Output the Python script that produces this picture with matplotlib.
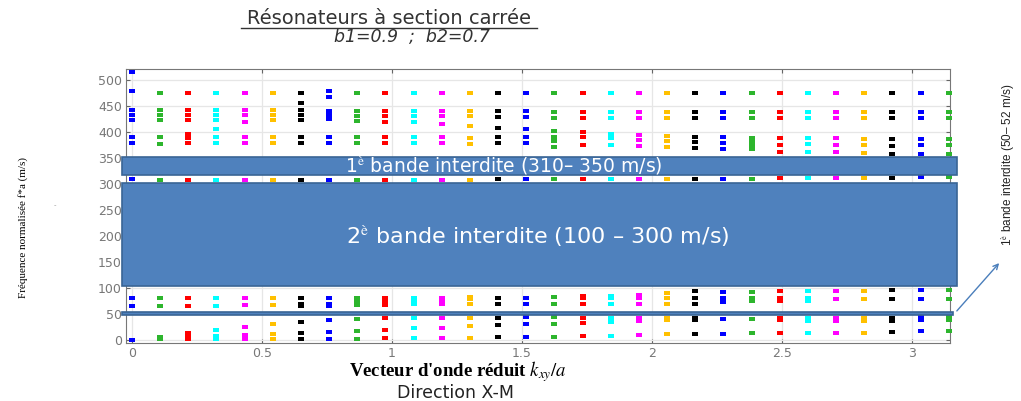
import matplotlib.pyplot as plt
from matplotlib.patches import Rectangle, FancyArrowPatch
from matplotlib.lines import Line2D
from matplotlib.path import Path

plt.rcParams['mathtext.fontset'] = 'stix'

# reduced wave vector k (x axis), 30 points from 0 to pi
k_points = [0.0, 0.108, 0.217, 0.325, 0.433, 0.542, 0.650, 0.758, 0.867, 0.975,
            1.083, 1.192, 1.300, 1.408, 1.517, 1.625, 1.733, 1.842, 1.950, 2.058,
            2.167, 2.275, 2.383, 2.492, 2.600, 2.708, 2.817, 2.925, 3.033, 3.142]

# frequencies below the 2nd gap (0 - 100)
low_freqs = [
    [0, 66, 81], [1, 6, 66, 81], [1, 6, 14, 66, 81], [1, 7, 20, 66, 81],
    [1, 9, 25, 67, 81], [1, 11, 30, 67, 81], [2, 13, 34, 66, 69, 81],
    [2, 15, 38, 66, 70, 81], [2, 17, 40, 67, 73, 81], [3, 19, 42, 67, 72, 76, 81],
    [3, 22, 43, 69, 75, 81], [3, 23, 43, 69, 77, 81], [4, 26, 43, 69, 79, 82],
    [5, 28, 43, 69, 81], [5, 30, 44, 69, 81], [6, 30, 44, 69, 83],
    [8, 33, 43, 70, 80, 84], [8, 35, 43, 70, 80, 85], [10, 37, 43, 70, 80, 86],
    [11, 38, 42, 70, 80, 90], [11, 38, 42, 70, 80, 95], [12, 41, 72, 80, 92],
    [13, 41, 74, 80, 93], [13, 38, 43, 75, 80, 94], [13, 37, 43, 75, 80, 94],
    [14, 37, 43, 78, 95], [14, 37, 43, 78, 95], [15, 36, 43, 78, 96],
    [17, 39, 44, 78, 96], [17, 39, 44, 78, 96],
]

# band just under the 1st gap
mid_freqs = [310, 308, 308, 308, 308, 308, 308, 308, 308, 308,
             308, 308, 308, 309, 309, 309, 309, 309, 309, 310,
             310, 310, 310, 311, 311, 311, 312, 312, 313, 313]

# frequencies above the 1st gap (350 - 520)
high_freqs = [
    [378, 390, 423, 433, 443, 479, 516], [377, 390, 423, 432, 442, 476],
    [378, 388, 397, 423, 432, 442, 476], [378, 390, 406, 423, 432, 442, 476],
    [378, 390, 419, 433, 442, 476], [378, 390, 423, 432, 442, 476],
    [378, 390, 423, 432, 442, 455, 476], [378, 390, 425, 433, 440, 467, 479],
    [378, 390, 421, 430, 440, 476], [378, 390, 420, 430, 440, 476],
    [378, 390, 419, 430, 440, 476], [378, 390, 415, 430, 440, 476],
    [377, 388, 412, 430, 440, 476], [378, 390, 408, 428, 440, 476],
    [378, 390, 405, 428, 440, 476], [372, 382, 391, 402, 427, 438, 476],
    [375, 390, 400, 427, 438, 476], [375, 388, 397, 427, 438, 476],
    [374, 384, 394, 427, 438, 476], [372, 382, 392, 427, 438, 476],
    [370, 380, 391, 427, 438, 476], [368, 378, 390, 427, 438, 476],
    [367, 375, 382, 389, 427, 438, 476], [362, 375, 388, 427, 438, 476],
    [362, 376, 388, 427, 438, 476], [361, 375, 388, 427, 438, 476],
    [359, 375, 387, 427, 438, 476], [358, 374, 387, 427, 438, 476],
    [358, 375, 387, 427, 438, 476], [358, 375, 387, 427, 438, 476],
]

palette = ['#0000ff', '#2db52d', '#ff0000', '#00ffff', '#ff00ff', '#ffc000', '#000000']

# forbidden bands (low, high)
gap1 = (317, 352)
gap2 = (103, 302)
gap3 = (47, 53)

# short dash marker (wider than tall)
dash = Path([(-1, -0.6), (1, -0.6), (1, 0.6), (-1, 0.6), (-1, -0.6)],
            [Path.MOVETO, Path.LINETO, Path.LINETO, Path.LINETO, Path.CLOSEPOLY])

fig = plt.figure(figsize=(10.21, 4.01), dpi=100)
ax = fig.add_axes([0.1234, 0.1446, 0.807, 0.683])

for i, k in enumerate(k_points):
    ys = low_freqs[i] + [mid_freqs[i]] + high_freqs[i]
    ax.scatter([k] * len(ys), ys, marker=dash, s=16, color=palette[i % 7],
               linewidths=0, zorder=3, clip_on=False)

ax.set_xlim(-0.023, 3.146)
ax.set_ylim(-6, 521)
ax.set_xticks([0, 0.5, 1, 1.5, 2, 2.5, 3])
ax.set_xticklabels(['0', '0.5', '1', '1.5', '2', '2.5', '3'])
ax.set_yticks(range(0, 501, 50))
ax.tick_params(direction='in', length=3, labelsize=9, labelcolor='#777777',
               color='#666666', top=True, right=True, pad=3)
for s in ax.spines.values():
    s.set_color('#777777')
ax.grid(True, color='#e6e6e6', lw=0.9)
ax.set_axisbelow(True)

fill = '#4f81bd'
edge = '#3a6595'
for (lo, hi), x1 in [(gap1, 3.172), (gap2, 3.172), (gap3, 3.158)]:
    ax.add_patch(Rectangle((-0.04, lo), x1 + 0.04, hi - lo, facecolor=fill,
                           edgecolor=edge, lw=1.2, zorder=5, clip_on=False))

ax.text(1.43, 335, r'1$^{\rm è}$ bande interdite (310– 350 m/s)', color='white',
        fontsize=13.5, ha='center', va='center', zorder=6)
ax.text(1.56, 200, r'2$^{\rm è}$ bande interdite (100 – 300 m/s)', color='white',
        fontsize=16, ha='center', va='center', zorder=6)

arrow = FancyArrowPatch((955 / 1021, 1 - 313 / 401), (1001 / 1021, 1 - 261 / 401),
                        transform=fig.transFigure, arrowstyle='->', mutation_scale=9,
                        color='#4a7ebb', lw=1)
fig.add_artist(arrow)
fig.text(1008 / 1021, 1 - 165 / 401, r'1$^{\rm è}$ bande interdite (50– 52 m/s)',
         rotation=90, ha='center', va='center', fontsize=8.5,
         family='Liberation Sans', color='#222222')

# titles
fig.text(389 / 1021, 1 - 19 / 401, 'Résonateurs à section carrée', ha='center',
         va='center', fontsize=14, color='#333333')
fig.add_artist(Line2D([241 / 1021, 537 / 1021], [1 - 28 / 401, 1 - 28 / 401],
                      transform=fig.transFigure, color='#333333', lw=1))
fig.text(412 / 1021, 1 - 37 / 401, 'b1=0.9  ;  b2=0.7', ha='center', va='center',
         fontsize=12.5, style='italic', color='#333333')

fig.text(23 / 1021, 1 - 228 / 401, 'Fréquence normalisée f*a (m/s)', rotation=90,
         ha='center', va='center', fontsize=8, family='Liberation Serif')
fig.text(55 / 1021, 1 - 205 / 401, '-', ha='center', va='center', fontsize=5,
         color='#999999')
fig.text(458 / 1021, 1 - 372 / 401, r"Vecteur d'onde réduit $k_{xy}/a$", ha='center',
         va='center', fontsize=13.5, family='Liberation Serif', weight='bold')
fig.text(455 / 1021, 1 - 393 / 401, 'Direction X-M', ha='center', va='center',
         fontsize=12.5, color='#222222')

fig.savefig('out.png', dpi=100)
